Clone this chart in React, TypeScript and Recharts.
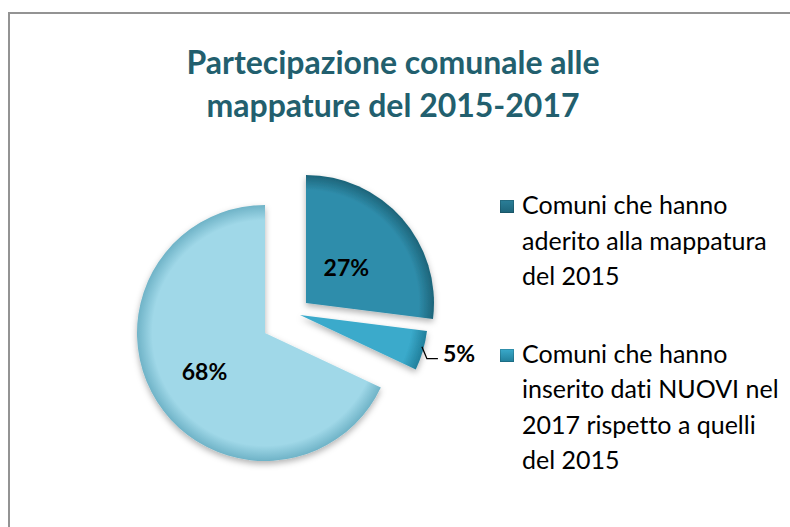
import { Cell, Legend, Pie, PieChart } from "recharts";

// values
const CATEGORIES = [
  "Comuni che hanno aderito alla mappatura del 2015",
  "Comuni che hanno inserito dati NUOVI nel 2017 rispetto a quelli del 2015",
  "Altri comuni",
];
const SHARES = [27, 5, 68];
const LEGEND_LINES = [
  ["Comuni che hanno", "aderito alla mappatura", "del 2015"],
  ["Comuni che hanno", "inserito dati NUOVI nel", "2017 rispetto a quelli", "del 2015"],
];

const COLORS = ["#2f8dab", "#3aaacb", "#a0d8e8"];
const RIMS = ["#1d6479", "#217f9b", "#6fb3c7"];
const ICONS = ["#2b7f99", "#3aaacb"];

const CENTER = { x: 265, y: 333 };
const RADIUS = 128;
// how far each slice is pulled out of the pie
const EXPLODE = [
  { dx: 41, dy: -30 },
  { dx: 35, dy: -18 },
  { dx: 0, dy: 0 },
];
const LABEL_RATIO = [0.42, 0, 0.56];

const RADIAN = Math.PI / 180;
const FONT = "Lato, 'Open Sans', sans-serif";

const data = CATEGORIES.map((name, i) => ({ name, value: SHARES[i] }));

const makeLabel = (k: number) => (props: any) => {
  const { cx, cy, midAngle, outerRadius, index, value } = props;
  if (index !== k) return null;
  const cos = Math.cos(-midAngle * RADIAN);
  const sin = Math.sin(-midAngle * RADIAN);
  if (k === 1) {
    // small slice: label outside with a short elbow leader
    const sx = cx + outerRadius * cos - 1;
    const sy = cy + outerRadius * sin - 4;
    const mx = sx + 5;
    const my = sy + 12;
    return (
      <g>
        <polyline points={`${sx},${sy} ${mx},${my} ${mx + 11},${my}`} fill="none" stroke="#000" strokeWidth={1.3} />
        <text x={mx + 16} y={my - 6} fill="#000" fontFamily={FONT} fontWeight={700} fontSize={23} dominantBaseline="central">
          {`${value}%`}
        </text>
      </g>
    );
  }
  const r = outerRadius * LABEL_RATIO[k];
  return (
    <text
      x={cx + r * cos}
      y={cy + r * sin}
      fill="#000"
      fontFamily={FONT}
      fontWeight={700}
      fontSize={23}
      textAnchor="middle"
      dominantBaseline="central"
    >
      {`${value}%`}
    </text>
  );
};

function LegendBox() {
  return (
    <div style={{ fontFamily: FONT, fontSize: 25, lineHeight: "35.5px", color: "#000", fontVariantLigatures: "none", whiteSpace: "nowrap" }}>
      {LEGEND_LINES.map((lines, i) => (
        <div key={i} style={{ position: "relative", paddingLeft: 22, marginBottom: 42 }}>
          <span
            style={{
              position: "absolute",
              left: 0,
              top: 13,
              width: 14,
              height: 13,
              background: `linear-gradient(180deg, ${ICONS[i]} 0%, ${RIMS[i]} 100%)`,
              boxShadow: "inset 0 0 0 1px rgba(0,0,0,0.15)",
            }}
          />
          {lines.map((l) => (
            <div key={l}>{l}</div>
          ))}
        </div>
      ))}
    </div>
  );
}

export default function App() {
  return (
    <div style={{ position: "absolute", left: 0, top: 0, width: 790, height: 527, overflow: "hidden", background: "#fff" }}>
      <div
        style={{
          position: "absolute",
          left: 8,
          top: 12,
          width: 800,
          height: 540,
          border: "2px solid #939393",
          boxSizing: "border-box",
        }}
      />
      <div
        style={{
          position: "absolute",
          left: 0,
          top: 40,
          width: 786,
          textAlign: "center",
          fontFamily: FONT,
          fontWeight: 700,
          fontSize: 32,
          lineHeight: "43px",
          color: "#225f6e",
        }}
      >
        Partecipazione comunale alle
        <br />
        mappature del 2015-2017
      </div>
      <div style={{ position: "absolute", left: 0, top: 0 }}>
        <PieChart width={790} height={527} margin={{ top: 0, right: 0, bottom: 0, left: 0 }}>
          <defs>
            <filter id="pieShadow" x="-20%" y="-20%" width="140%" height="140%">
              <feDropShadow dx="0" dy="3" stdDeviation="3" floodColor="#000" floodOpacity="0.3" />
            </filter>
            {COLORS.map((c, k) => (
              <radialGradient
                key={k}
                id={`rim${k}`}
                gradientUnits="userSpaceOnUse"
                cx={CENTER.x + EXPLODE[k].dx}
                cy={CENTER.y + EXPLODE[k].dy}
                r={RADIUS}
              >
                <stop offset="0%" stopColor={c} />
                <stop offset="88%" stopColor={c} />
                <stop offset="100%" stopColor={RIMS[k]} />
              </radialGradient>
            ))}
          </defs>
          {COLORS.map((_c, k) => (
            <Pie
              key={k}
              data={data}
              dataKey="value"
              nameKey="name"
              cx={CENTER.x + EXPLODE[k].dx}
              cy={CENTER.y + EXPLODE[k].dy}
              outerRadius={RADIUS}
              startAngle={90}
              endAngle={-270}
              stroke="none"
              legendType={k === 0 ? "square" : "none"}
              label={makeLabel(k)}
              labelLine={false}
              isAnimationActive={false}
            >
              {data.map((_d, i) => (
                <Cell
                  key={`cell-${i}`}
                  fill={i === k ? `url(#rim${k})` : "none"}
                  filter={i === k ? "url(#pieShadow)" : undefined}
                />
              ))}
            </Pie>
          ))}
          <Legend
            layout="vertical"
            verticalAlign="top"
            align="right"
            content={() => <LegendBox />}
            wrapperStyle={{ left: 500, top: 187, width: 285, right: "auto" }}
          />
        </PieChart>
      </div>
    </div>
  );
}
